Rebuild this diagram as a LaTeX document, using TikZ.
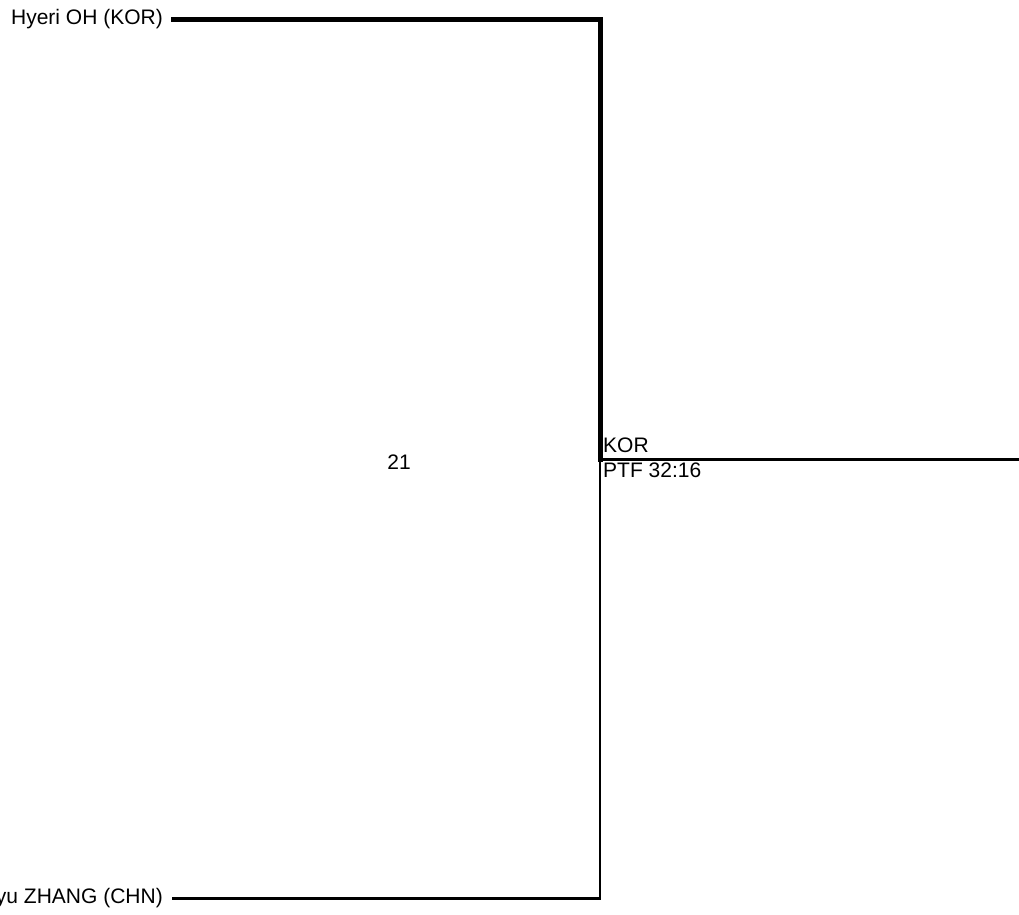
\documentclass[tikz,border=0pt]{standalone}
\usepackage{fontspec}
\setmainfont{Liberation Sans}
\begin{document}
\begin{tikzpicture}[x=1pt,y=1pt,
  lbl/.style={inner sep=0pt,font=\fontsize{21}{25}\selectfont},
  winline/.style={line width=5pt,line cap=rect},
  loseline/.style={line width=2.5pt,line cap=rect}]
\useasboundingbox (0,0) rectangle (1019,914);
\clip (0,0) rectangle (1019,914);
\node[lbl,anchor=east] (p1) at (163,895) {Hyeri OH (KOR)};
\node[lbl,anchor=east] (p2) at (163,16) {Mengyu ZHANG (CHN)};
\coordinate (a1) at (173,894.5);
\coordinate (a2) at (173,15.5);
\coordinate (c1) at (600,894.5);
\coordinate (c2) at (600,15.5);
\coordinate (m) at (600,454.5);
\coordinate (e) at (1019,454.5);
\draw[loseline] (a2) -- (c2) -- (m);
\draw[loseline,line cap=butt] (m) -- (e);
\draw[winline] (a1) -- (c1) -- (m);
\node[lbl,anchor=base west] (w) at (603,462) {KOR};
\node[lbl,anchor=base west] (s) at (603,437) {PTF 32:16};
\node[lbl] (n) at (399,452) {21};
\end{tikzpicture}
\end{document}
